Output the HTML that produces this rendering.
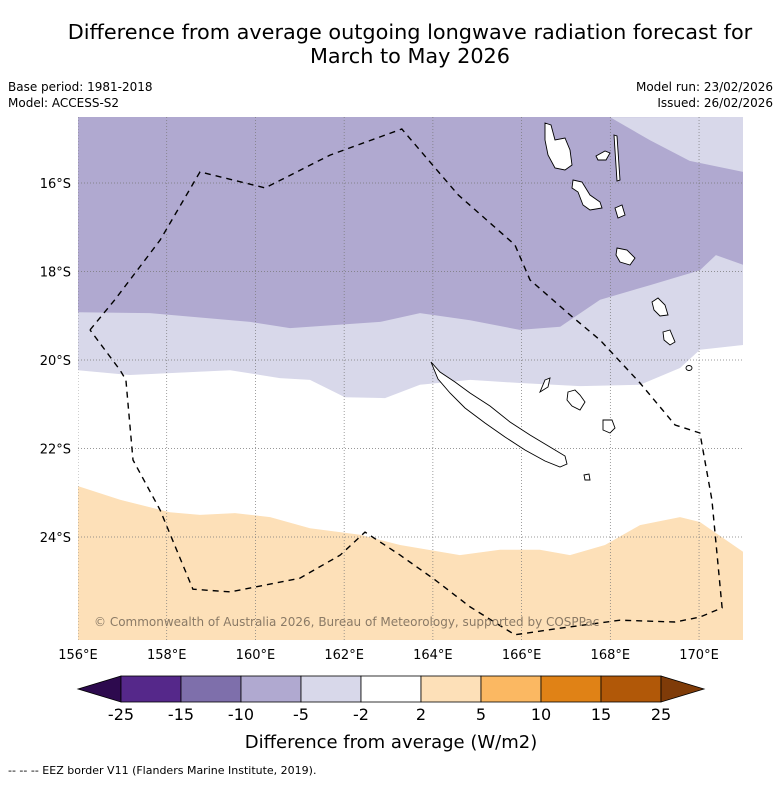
<!DOCTYPE html>
<html><head><meta charset="utf-8"><style>
body{margin:0;background:#fff;font-family:"Liberation Sans","DejaVu Sans",sans-serif}
svg text{font-family:"DejaVu Sans","Liberation Sans",sans-serif}
</style></head><body>
<svg id="c" width="781" height="781" viewBox="0 0 781 781" xmlns="http://www.w3.org/2000/svg">
<rect width="781" height="781" fill="#fff"/>
<text x="410" y="39" text-anchor="middle" font-size="20.8">Difference from average outgoing longwave radiation forecast for</text>
<text x="410" y="63" text-anchor="middle" font-size="20.8">March to May 2026</text>
<text x="8" y="91" font-size="12">Base period: 1981-2018</text>
<text x="8" y="107" font-size="12">Model: ACCESS-S2</text>
<text x="773" y="91" font-size="12" text-anchor="end">Model run: 23/02/2026</text>
<text x="773" y="107" font-size="12" text-anchor="end">Issued: 26/02/2026</text>
<defs><clipPath id="mc"><rect x="78" y="117" width="665" height="523"/></clipPath></defs>
<g id="map" clip-path="url(#mc)"></g>
<g id="ax"></g>
<g id="cb"></g>
<text x="8" y="774" font-size="11">--  --  -- EEZ border V11 (Flanders Marine Institute, 2019).</text>
</svg>
<script>
// axis extents
const lonTicks=[156,158,160,162,164,166,168,170];
const latTicks=[16,18,20,22,24];
// contour boundaries (lon, lat south)
const purpleLowerLon=[156,157.62,159.88,160.78,162.81,163.71,164.84,165.96,166.87,167.77,168.89,170.02,170.38,171];
const purpleLowerLat=[18.92,18.94,19.14,19.28,19.14,18.94,19.10,19.32,19.25,18.64,18.31,17.97,17.63,17.85];
const topLightLon=[167.99,168.89,169.79,171];
const topLightLat=[14.51,15.03,15.50,15.75];
const lavLowerLon=[156,157.17,159.43,160.55,161.23,162.02,162.92,163.71,164.84,165.96,167.32,168.67,169.57,170.02,171];
const lavLowerLat=[20.23,20.34,20.23,20.41,20.45,20.84,20.86,20.56,20.45,20.52,20.59,20.56,20.18,19.77,19.66];
const orangeTopLon=[156,156.95,158.07,158.75,159.54,160.33,161.23,162.36,163.26,164.61,165.51,166.41,167.09,167.88,168.67,169.57,170.02,171];
const orangeTopLat=[22.85,23.16,23.44,23.50,23.46,23.55,23.80,23.95,24.18,24.41,24.29,24.29,24.41,24.18,23.73,23.55,23.66,24.34];
const eezLon=[156.27,156.83,157.85,158.75,160.22,161.68,163.30,164.57,165.85,166.19,167.09,167.77,168.67,169.46,170.02,170.29,170.52,170.02,169.46,168.22,166.87,165.85,164.84,164.05,163.26,162.47,161.91,161.0,159.43,158.59,157.85,157.24,157.08,156.95,156.27];
const eezLat=[19.32,18.64,17.29,15.75,16.11,15.37,14.78,16.27,17.40,18.19,18.98,19.55,20.52,21.47,21.65,23.16,25.60,25.81,25.92,25.88,26.06,26.21,25.58,24.97,24.41,23.89,24.41,24.93,25.24,25.18,23.39,22.26,20.45,20.23,19.32];
// colorbar
const cbBounds=[-25,-15,-10,-5,-2,2,5,10,15,25];
const cbColors=["#55288a","#7e6fab","#b0a9d0","#d8d8ea","#ffffff","#fde0b8","#fbb862","#e08216","#b15808"];
const cbUnder="#2d0a4e", cbOver="#7f3b08";

const X=lon=>78+(lon-156)*44.36;
const Y=lat=>183+(lat-16)*44.25;
const NS="http://www.w3.org/2000/svg";
function mk(tag,attrs,parent){const e=document.createElementNS(NS,tag);for(const k in attrs)e.setAttribute(k,attrs[k]);parent.appendChild(e);return e;}
const map=document.getElementById('map'), ax=document.getElementById('ax'), cb=document.getElementById('cb');
function pts(lons,lats){return lons.map((l,i)=>X(l).toFixed(1)+','+Y(lats[i]).toFixed(1));}
let r=mk('rect',{x:78,y:117,width:665,height:523,fill:"#b0a9d0"},map);


let p=mk('polygon',{points:[...pts(topLightLon,topLightLat),X(171)+','+117].join(' '),fill:"#d8d8ea"},map);


p=mk('polygon',{points:[...pts(purpleLowerLon,purpleLowerLat),'743,640','78,640'].join(' '),fill:"#d8d8ea"},map);


p=mk('polygon',{points:[...pts(lavLowerLon,lavLowerLat),'743,640','78,640'].join(' '),fill:"#ffffff"},map);


p=mk('polygon',{points:[...pts(orangeTopLon,orangeTopLat),'743,640','78,640'].join(' '),fill:"#fde0b8"},map);


lonTicks.forEach(l=>{const g=mk('line',{x1:X(l),x2:X(l),y1:117,y2:640,stroke:"#777","stroke-width":0.7,"stroke-dasharray":"1,2"},map);

});
latTicks.forEach(l=>{const g=mk('line',{x1:78,x2:743,y1:Y(l),y2:Y(l),stroke:"#777","stroke-width":0.7,"stroke-dasharray":"1,2"},map);

});
const isl=[
 ["new-caledonia","M431,362 L440,372 L455,382 L470,393 L490,406 L510,422 L530,435 L550,447 L565,456 L567,464 L560,467 L545,461 L525,450 L505,437 L485,423 L465,408 L450,393 L438,379 Z"],
 ["espiritu-santo","M545,123 L551,125 L555,140 L565,138 L570,150 L572,165 L565,170 L555,168 L548,155 L545,140 Z"],
 ["malakula","M573,180 L582,182 L590,195 L600,202 L602,208 L590,210 L583,205 L578,192 L572,188 Z"],
 ["efate","M615,208 L622,205 L625,215 L618,218 Z"],
 ["pentecost","M614,135 L617,136 L620,180 L617,181 Z"],
 ["maewo","M596,156 L605,151 L610,153 L606,160 L598,160 Z"],
 ["erromango","M617,248 L627,250 L635,258 L630,265 L620,262 L616,255 Z"],
 ["tanna","M652,302 L658,298 L665,305 L668,315 L660,316 L654,310 Z"],
 ["aneityum","M663,332 L670,330 L675,342 L670,345 L664,340 Z"],
 ["ouvea","M545,380 L550,378 L548,387 L540,392 Z"],
 ["lifou","M568,392 L575,390 L580,395 L585,402 L580,410 L572,406 L567,400 Z"],
 ["mare","M603,420 L612,420 L615,428 L610,433 L603,430 Z"],
 ["walpole","M584,475 L589,474 L590,480 L585,480 Z"],
 ["matthew","M686,368 a3,2.5 0 1,0 6,0 a3,2.5 0 1,0 -6,0 Z"]];
isl.forEach(d=>{const e=mk('path',{d:d[1],fill:"#fff",stroke:"#000","stroke-width":0.9},map);

});
let ez=mk('polyline',{points:pts(eezLon,eezLat).join(' '),fill:"none",stroke:"#000","stroke-width":1.4,"stroke-dasharray":"6,5"},map);


let cr=mk('text',{x:94,y:626,"font-size":12,fill:"#8a7a66"},map);
cr.textContent="© Commonwealth of Australia 2026, Bureau of Meteorology, supported by COSPPac";


lonTicks.forEach(l=>{const t=mk('text',{x:X(l),y:659,"font-size":13,"text-anchor":"middle"},ax);t.textContent=l+"°E";

});
latTicks.forEach(l=>{const t=mk('text',{x:71,y:Y(l)+5,"font-size":13,"text-anchor":"end"},ax);t.textContent=l+"°S";

});
const bw=60, bx0=121, by=676, bh=26;
let tri=mk('polygon',{points:`${bx0},${by} 78,${by+bh/2} ${bx0},${by+bh}`,fill:cbUnder,stroke:"#000","stroke-width":0.8},cb);


cbColors.forEach((c,i)=>{const b=mk('rect',{x:bx0+i*bw,y:by,width:bw,height:bh,fill:c,stroke:"#000","stroke-width":0.8},cb);

});
const bx1=bx0+cbColors.length*bw;
tri=mk('polygon',{points:`${bx1},${by} ${bx1+43},${by+bh/2} ${bx1},${by+bh}`,fill:cbOver,stroke:"#000","stroke-width":0.8},cb);


cbBounds.forEach((v,i)=>{const t=mk('text',{x:bx0+i*bw,y:720,"font-size":16,"text-anchor":"middle"},cb);t.textContent=v;

});
let ct=mk('text',{x:391,y:748,"font-size":18,"text-anchor":"middle"},cb);
ct.textContent="Difference from average (W/m2)";


</script>
</body></html>
